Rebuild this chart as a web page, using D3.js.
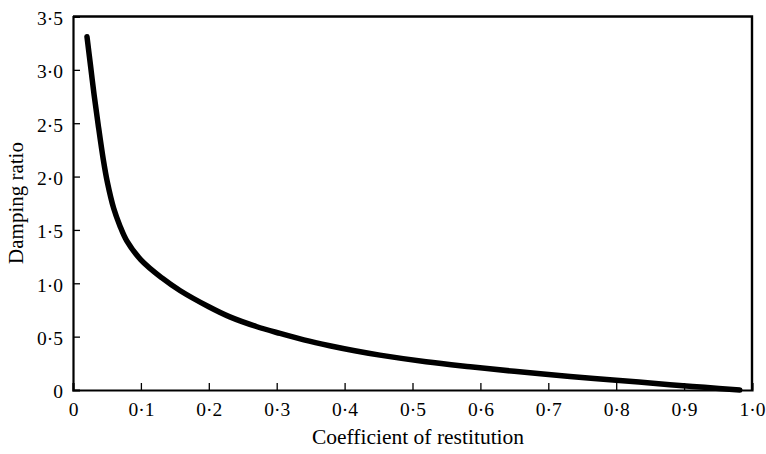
<!DOCTYPE html>
<html><head><meta charset="utf-8">
<script src="https://cdn.jsdelivr.net/npm/d3@7"></script>
<style>body{margin:0;background:#fff}svg{display:block}</style>
</head><body><svg id="c" width="766" height="454"></svg>
<script>
const restitution = [0.0206,0.026,0.031,0.037,0.0446,0.0505,0.06,0.069,0.079,0.10,0.131,0.158,0.20,0.231,0.27,0.305,0.34,0.378,0.415,0.452,0.52,0.585,0.65,0.732,0.80,0.879,0.93,0.982];
const damping = [3.31,3.03,2.77,2.49,2.16,1.95,1.70,1.54,1.40,1.22,1.05,0.93,0.78,0.685,0.595,0.53,0.47,0.415,0.368,0.327,0.265,0.218,0.175,0.127,0.092,0.05,0.025,0.0];
const xTicks = [0,0.1,0.2,0.3,0.4,0.5,0.6,0.7,0.8,0.9,1.0];
const xTickLabels = ["0","0·1","0·2","0·3","0·4","0·5","0·6","0·7","0·8","0·9","1·0"];
const yTicks = [0,0.5,1.0,1.5,2.0,2.5,3.0,3.5];
const yTickLabels = ["0","0·5","1·0","1·5","2·0","2·5","3·0","3·5"];
const xTitle = "Coefficient of restitution";
const yTitle = "Damping ratio";

const FONT = "'Liberation Serif'";
const svg = d3.select("#c").style("font-family", FONT);
const L=73, R=752, T=16.5, B=390;
const x = d3.scaleLinear().domain([0,1]).range([L,R]);
const y = d3.scaleLinear().domain([0,3.5]).range([B,T]);

svg.append("path").attr("d",`M${L},${T}H${R}V${B}`).attr("fill","none").attr("stroke","#000").attr("stroke-width",2.4);

const xa = svg.append("g").attr("transform",`translate(0,${B})`)
  .call(d3.axisBottom(x).tickValues(xTicks).tickSize(-7).tickPadding(12).tickFormat((d,i)=>xTickLabels[i]));
const ya = svg.append("g").attr("transform",`translate(${L},0)`)
  .call(d3.axisLeft(y).tickValues(yTicks).tickSize(-7).tickPadding(10).tickFormat((d,i)=>yTickLabels[i]));
[xa,ya].forEach(g=>{
  g.attr("font-family", null).style("font-family", FONT);
  g.select(".domain").attr("stroke","#000").attr("stroke-width",2.2);
  g.selectAll(".tick line").attr("stroke","#000").attr("stroke-width",1.3);
  g.selectAll(".tick text").attr("font-size",19.5).style("font-family", FONT).attr("fill","#000");
});
xa.selectAll(".tick").filter(d=>d===0||d===1).select("line").remove();
ya.selectAll(".tick").filter(d=>d===0||d===3.5).select("line").remove();
ya.selectAll(".tick text").attr("dy","0.4em");

svg.append("text").attr("x",418).attr("y",444).attr("text-anchor","middle").attr("font-size",21.5).style("font-family",FONT).text(xTitle);
svg.append("text").attr("transform",`translate(23,203) rotate(-90)`).attr("text-anchor","middle").attr("font-size",21).style("font-family",FONT).text(yTitle);

const pts = restitution.map((e,i)=>[e,damping[i]]);
svg.append("path").datum(pts)
  .attr("d", d3.line().x(d=>x(d[0])).y(d=>y(d[1])).curve(d3.curveCatmullRom.alpha(0.5)))
  .attr("fill","none").attr("stroke","#000").attr("stroke-width",5.5).attr("stroke-linecap","round");
</script></body></html>
